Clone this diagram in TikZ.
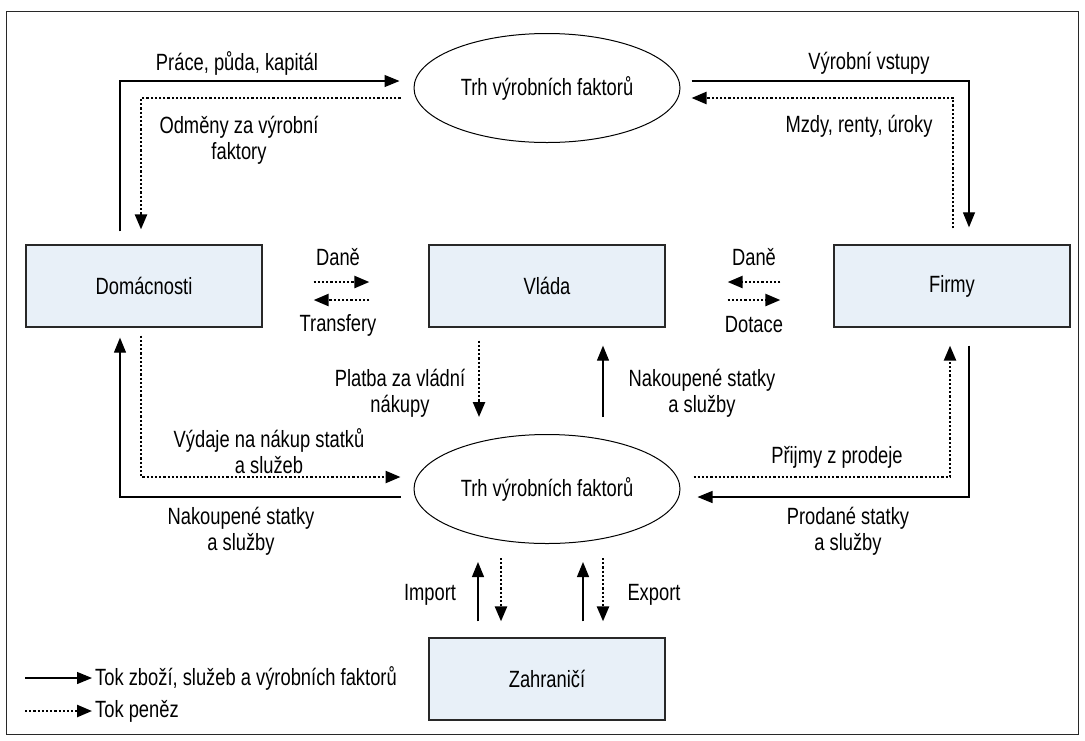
\documentclass[tikz,border=0pt]{standalone}
\usepackage{fontspec}
\setmainfont{Liberation Sans}[FakeStretch=0.78]
\usetikzlibrary{shapes.geometric,arrows.meta,calc}
\definecolor{boxfill}{RGB}{232,240,248}
\definecolor{edgec}{RGB}{40,40,40}
\begin{document}
\begin{tikzpicture}[x=1pt,y=-1pt,
  every node/.style={font=\fontsize{23.5}{26}\selectfont},
  box/.style={draw=edgec, line width=1.3pt, fill=boxfill, minimum width=236pt, minimum height=82pt, inner sep=0pt},
  mkt/.style={ellipse, draw=black, line width=1pt, minimum width=266pt, minimum height=109pt, inner sep=0pt},
  goods/.style={line width=1.2pt, -{Triangle[length=15pt,width=12pt]}},
  money/.style={line width=2.4pt, dash pattern=on 2.2pt off 2pt, -{Triangle[length=15pt,width=12pt]}},
  lbl/.style={align=center, inner sep=0pt}]
\useasboundingbox (0,0) rectangle (1085,740);
\draw[line width=0.8pt, draw=edgec] (6,11) rectangle (1078,734);

% nodes
\node[mkt] (T) at (547,88) {Trh výrobních faktorů};
\node[mkt] (B) at (547,489) {Trh výrobních faktorů};
\node[box] (D) at (144,286) {Domácnosti};
\node[box] (V) at (547,286) {Vláda};
\node[box] (F) at (952,286) {Firmy};
\node[box] (Z) at (547,679) {Zahraničí};

% top left
\draw[goods] ([xshift=-24pt,yshift=13pt]D.north) |- ([xshift=-14pt,yshift=7pt]T.west);
\draw[money] ([xshift=-13pt,yshift=-10pt]T.west) -| ([xshift=-3pt,yshift=15pt]D.north);
\node[lbl] at (237,63) {Práce, půda, kapitál};
\node[lbl] at (239,140) {Odměny za výrobní\\faktory};

% top right
\draw[goods] ([xshift=11pt,yshift=7pt]T.east) -| ([xshift=17pt,yshift=17pt]F.north);
\draw[money] ([xshift=1pt,yshift=16pt]F.north) |- ([xshift=11pt,yshift=-10pt]T.east);
\node[lbl] at (869,63) {Výrobní vstupy};
\node[lbl] at (859,126) {Mzdy, renty, úroky};

% taxes / transfers
\draw[money] ([xshift=51pt,yshift=4pt]D.east) -- ([xshift=-59pt,yshift=4pt]V.west);
\draw[money] ([xshift=-59pt,yshift=-14pt]V.west) -- ([xshift=51pt,yshift=-14pt]D.east);
\node[lbl] at (338,257) {Daně};
\node[lbl] at (338,325) {Transfery};
\draw[money] ([xshift=-53pt,yshift=4pt]F.west) -- ([xshift=62pt,yshift=4pt]V.east);
\draw[money] ([xshift=62pt,yshift=-14pt]V.east) -- ([xshift=-53pt,yshift=-14pt]F.west);
\node[lbl] at (754,257) {Daně};
\node[lbl] at (754,325) {Dotace};

% households - goods market
\draw[goods] ([xshift=-13pt,yshift=-8pt]B.west) -| ([xshift=-24pt,yshift=-10pt]D.south);
\draw[money] ([xshift=-3pt,yshift=-8pt]D.south) |- ([xshift=-13pt,yshift=12pt]B.west);
\node[lbl] at (269,451) {Výdaje na nákup statků\\a služeb};
\node[lbl] at (241,531) {Nakoupené statky\\a služby};

% government - goods market
\draw[money] ([xshift=-68pt,yshift=-13pt]V.south) -- ([xshift=-68pt,yshift=17pt]B.north);
\draw[goods] ([xshift=56pt,yshift=17pt]B.north) -- ([xshift=56pt,yshift=-18pt]V.south);
\node[lbl] at (400,393) {Platba za vládní\\nákupy};
\node[lbl] at (702,393) {Nakoupené statky\\a služby};

% firms - goods market
\draw[money] ([xshift=13pt,yshift=12pt]B.east) -| ([xshift=-2pt,yshift=-18pt]F.south);
\draw[goods] ([xshift=17pt,yshift=-18pt]F.south) |- ([xshift=17pt,yshift=-8pt]B.east);
\node[lbl] at (837,457) {Přijmy z prodeje};
\node[lbl] at (848,531) {Prodané statky\\a služby};

% foreign
\draw[goods] ([xshift=-69pt,yshift=16pt]Z.north) -- ([xshift=-69pt,yshift=-18pt]B.south);
\draw[money] ([xshift=-46pt,yshift=-14pt]B.south) -- ([xshift=-46pt,yshift=16pt]Z.north);
\draw[goods] ([xshift=36pt,yshift=16pt]Z.north) -- ([xshift=36pt,yshift=-18pt]B.south);
\draw[money] ([xshift=56pt,yshift=-14pt]B.south) -- ([xshift=56pt,yshift=16pt]Z.north);
\node[lbl] at (430,595) {Import};
\node[lbl] at (654,595) {Export};

% legend
\coordinate (l1a) at (25,678);
\coordinate (l1b) at (92,678);
\coordinate (l2a) at (25,711);
\coordinate (l2b) at (92,711);
\draw[goods] (l1a) -- (l1b);
\draw[money] (l2a) -- (l2b);
\node[lbl, anchor=west] at (95,678) {Tok zboží, služeb a výrobních faktorů};
\node[lbl, anchor=west] at (95,711) {Tok peněz};
\end{tikzpicture}
\end{document}
